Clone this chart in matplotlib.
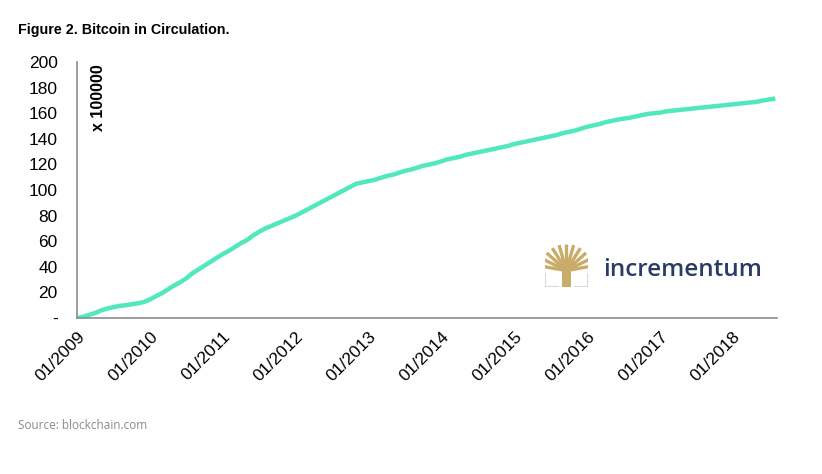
import matplotlib.pyplot as plt
import matplotlib.patches as mpatches
import numpy as np

plt.rcParams['font.family'] = ['Liberation Sans', 'DejaVu Sans']

# bitcoin in circulation, units of 100000 BTC, start of each month from 01/2009
btc_2009 = [0, 1, 2.5, 4, 6, 7.5, 8.5, 9.5, 10, 10.8, 11.5, 12.5]
btc_2010 = [14.5, 17, 19.5, 22.5, 25.5, 28, 31, 35, 38, 41, 44, 47]
btc_2011 = [50, 52.5, 55.5, 58.5, 61, 64.5, 67.5, 70, 72, 74, 76, 78]
btc_2012 = [80, 82.5, 85, 87.5, 90, 92.5, 95, 97.5, 100, 102.5, 105, 106]
btc_2013 = [107, 108, 109.5, 111, 112, 113.5, 115, 116, 117.5, 119, 120, 121]
btc_2014 = [122.5, 124, 125, 126, 127.5, 128.5, 129.5, 130.5, 131.5, 132.5, 133.5, 134.5]
btc_2015 = [136, 137, 138, 139, 140, 141, 142, 143, 144.5, 145.5, 146.5, 148]
btc_2016 = [149.5, 150.5, 151.5, 153, 154, 155, 155.8, 156.5, 157.5, 158.5, 159.5, 160]
btc_2017 = [160.5, 161.5, 162, 162.5, 163, 163.5, 164, 164.5, 165, 165.5, 166, 166.5]
btc_2018 = [167, 167.5, 168, 168.5, 169, 170, 170.8, 171.5]

circulation = (btc_2009 + btc_2010 + btc_2011 + btc_2012 + btc_2013
               + btc_2014 + btc_2015 + btc_2016 + btc_2017 + btc_2018)
months = np.arange(len(circulation))
years = list(range(2009, 2019))
tick_labels = ['01/%d' % y for y in years]

fig = plt.figure(figsize=(8.22, 4.74), dpi=100)
ax = fig.add_axes([0.0937, 0.329, 0.851, 0.540])

ax.plot(months, circulation, color='#50E8BC', lw=3.2, solid_capstyle='butt')

ax.set_xlim(0, len(circulation) - 1 + 0.2)
ax.set_ylim(0, 200)
ax.set_yticks(range(0, 201, 20))
ax.set_yticklabels(['-'] + [str(v) for v in range(20, 201, 20)], fontsize=12.5)
ax.set_xticks([12 * i for i in range(len(years))])
ax.set_xticklabels(tick_labels, rotation=45, ha='right', rotation_mode='anchor', fontsize=12.5)
ax.tick_params(length=0, pad=14)
ax.tick_params(axis='x', pad=8)

for s in ['top', 'right']:
    ax.spines[s].set_visible(False)
for s in ['left', 'bottom']:
    ax.spines[s].set_color('#8c8c8c')
    ax.spines[s].set_linewidth(1.2)

ax.text(0.03, 0.99, 'x 100000', transform=ax.transAxes, rotation=90,
        fontsize=11.5, fontweight='bold', va='top', ha='center')

fig.text(0.022, 0.928, 'Figure 2. Bitcoin in Circulation.', fontsize=10.3, fontweight='bold')
fig.text(0.022, 0.095, 'Source: blockchain.com', fontsize=8.5, color='#8a8a8a',
         family=['Open Sans', 'DejaVu Sans'])

# logo
lax = fig.add_axes([0.663, 0.395, 0.052, 0.09])
lax.set_xlim(0, 1)
lax.set_ylim(0, 1)
lax.axis('off')
gold = '#C9AC6A'
lax.add_patch(mpatches.Rectangle((0.4, 0.0), 0.2, 0.45, color=gold, lw=0))
for ang in np.linspace(10, 170, 11):
    a = np.radians(ang)
    lax.plot([0.5, 0.5 + 0.62 * np.cos(a)], [0.38, 0.38 + 0.62 * np.sin(a)],
             color=gold, lw=2.4, solid_capstyle='butt')
lax.add_patch(mpatches.Rectangle((-0.05, 1.0), 1.1, 0.3, color='white', lw=0, zorder=5))
lax.plot([0.0, 0.0, 0.3], [0.3, 0.0, 0.0], color='#d8d8d8', lw=1.5)
lax.plot([1.0, 1.0, 0.7], [0.3, 0.0, 0.0], color='#d8d8d8', lw=1.5)
fig.text(0.734, 0.418, 'incrementum', fontsize=17.5, color='#2A3B66', fontweight='semibold',
         family=['Open Sans', 'DejaVu Sans'])

fig.savefig('out.png', dpi=100)
